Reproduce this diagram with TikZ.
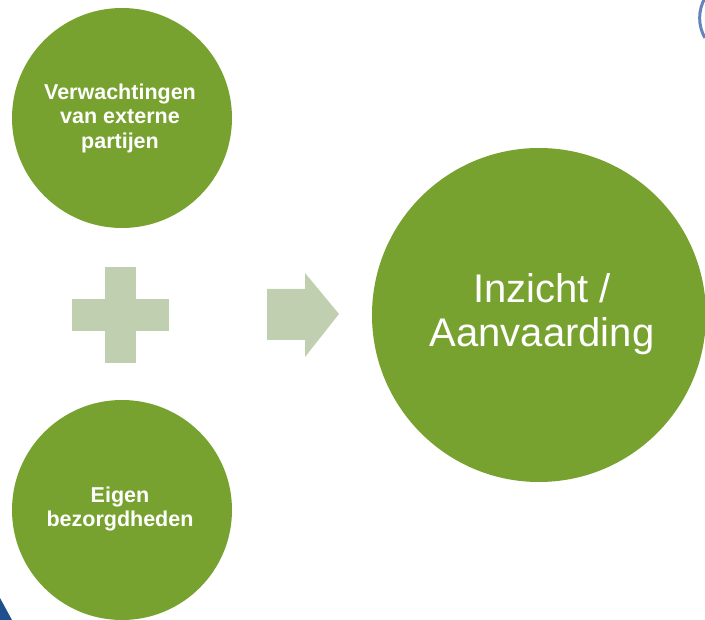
\documentclass[tikz,border=0pt]{standalone}
\usepackage{fontspec}
\setmainfont{Liberation Sans}
\definecolor{leaf}{HTML}{78A22F}
\definecolor{pale}{HTML}{C0CFAF}
\definecolor{ringblue}{HTML}{6384BD}
\definecolor{darkblue}{HTML}{1F4F8C}
\begin{document}
\begin{tikzpicture}[x=1pt,y=-1pt,
  bubble/.style={circle,fill=leaf,inner sep=0pt,minimum size=#1},
  smalltxt/.style={text=white,align=center,font=\bfseries\fontsize{21.5}{24.5}\selectfont},
  bigtxt/.style={text=white,align=center,font=\fontsize{40}{44}\selectfont},
  shapefill/.style={fill=pale}]
\useasboundingbox (0,0) rectangle (705,620);
\begin{scope}
\clip (0,0) rectangle (705,620);
% decorative corner pieces
\draw[ringblue,line width=3pt] (705,-2) arc[start angle=210,end angle=150,radius=40];
\fill[darkblue] (0,598) -- (12,620) -- (0,620) -- cycle;
% circles
\node[bubble=220pt] (ext) at (122,118) {};
\node[bubble=220pt] (own) at (122,510) {};
\node[bubble=334pt] (res) at (539,315) {};
\end{scope}
\node[smalltxt] (exttxt) at (120,118) {Verwachtingen\\van externe\\partijen};
\node[smalltxt] (owntxt) at (120,509) {Eigen\\bezorgdheden};
\node[bigtxt] (restxt) at (542,314) {Inzicht /\\Aanvaarding};
% plus
\fill[shapefill] (105,267) rectangle (136,363);
\fill[shapefill] (72,299) rectangle (169,331);
\coordinate (plus) at (120,315);
% arrow
\fill[shapefill] (267,289) -- (305,289) -- (305,273) -- (339,314) -- (305,357) -- (305,340) -- (267,340) -- cycle;
\coordinate (arrow) at (303,314);
\end{tikzpicture}
\end{document}
